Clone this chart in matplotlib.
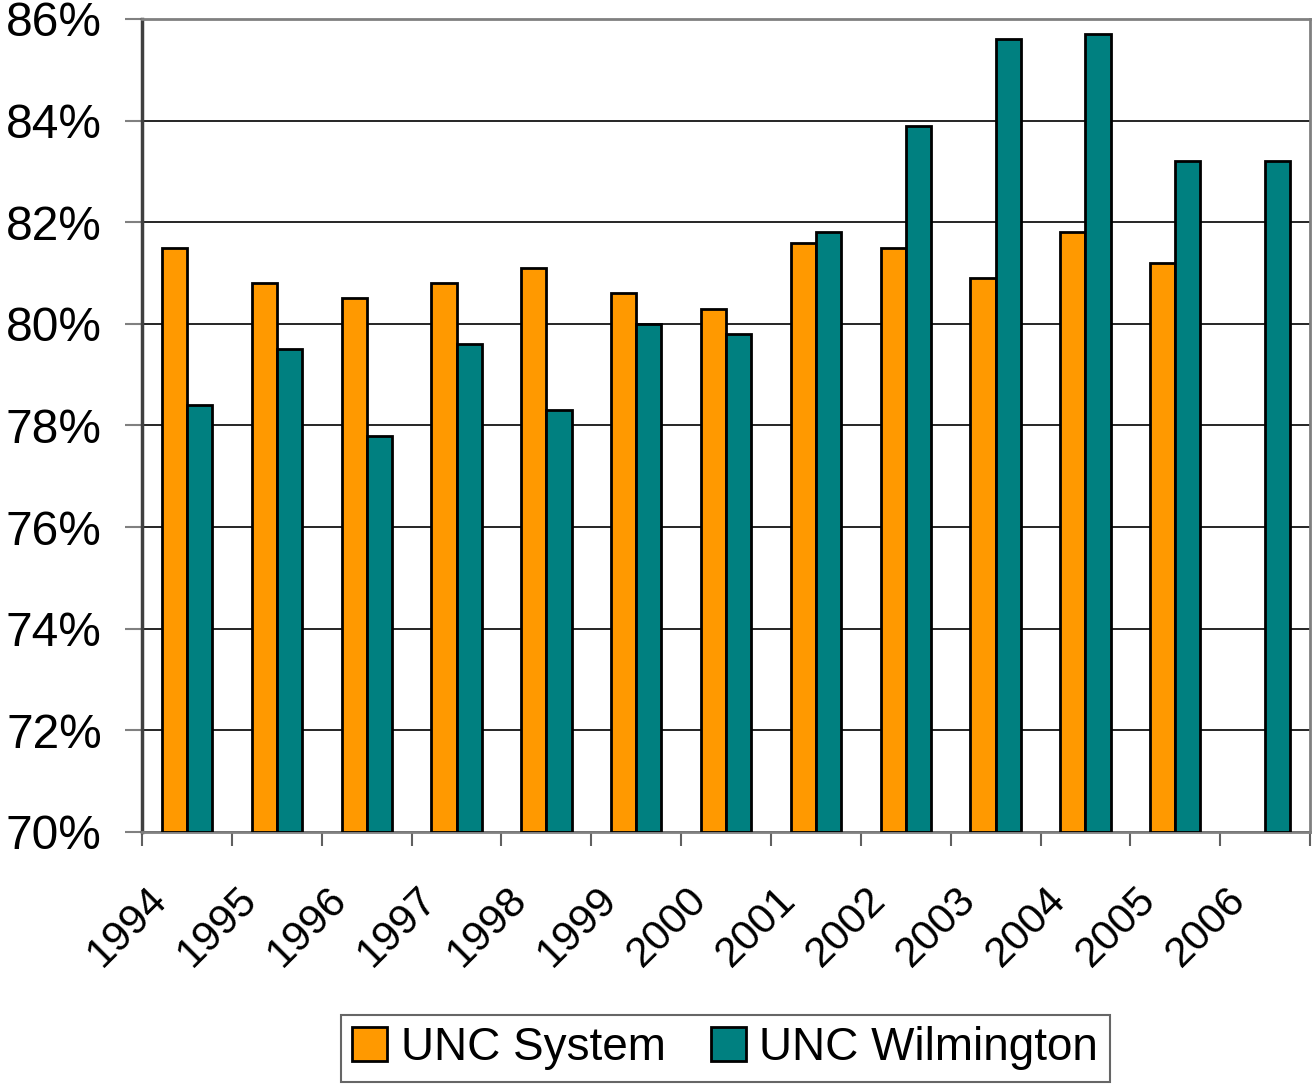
import matplotlib.pyplot as plt
import matplotlib.transforms as mtransforms
import numpy as np

# data
years = ['1994', '1995', '1996', '1997', '1998', '1999', '2000',
         '2001', '2002', '2003', '2004', '2005', '2006']
unc_system = [81.5, 80.8, 80.5, 80.8, 81.1, 80.6, 80.3, 81.6, 81.5, 80.9, 81.8, 81.2, np.nan]
unc_wilmington = [78.4, 79.5, 77.8, 79.6, 78.3, 80.0, 79.8, 81.8, 83.9, 85.6, 85.7, 83.2, 83.2]

plt.rcParams['font.family'] = ['Liberation Sans', 'DejaVu Sans']

fig = plt.figure(figsize=(13.14, 10.85), dpi=100)
ax = fig.add_axes([0.1081, 0.2332, 0.997 - 0.1081, 0.9825 - 0.2332])

x = np.arange(len(years))
w = 0.28
base = 70
ax.bar(x - w / 2, np.array(unc_system) - base, w, bottom=base, color='#FF9900',
       edgecolor='black', linewidth=2, label='UNC System', zorder=3)
ax.bar(x + w / 2, np.array(unc_wilmington) - base, w, bottom=base, color='#008080',
       edgecolor='black', linewidth=2, label='UNC Wilmington', zorder=3)

ax.set_xlim(-0.5, len(years) - 0.5)
ax.set_ylim(70, 86)
yt = np.arange(70, 87, 2)
ax.set_yticks(yt)
ax.set_yticklabels(['%d%%' % v for v in yt], fontsize=34.5)
ax.yaxis.grid(True, color='black', linewidth=1.2, zorder=0)
ax.tick_params(axis='y', length=12, width=1.5, color='#808080', pad=17)

# ticks on category boundaries, labels in the middle
ax.set_xticks(np.arange(len(years) + 1) - 0.5)
ax.set_xticklabels([])
ax.set_xticks(x, minor=True)
ax.set_xticklabels(years, minor=True, fontsize=30.5, rotation=45, ha='right',
                   rotation_mode='anchor')
ax.tick_params(axis='x', which='major', length=10, width=1.5, color='#606060')
ax.tick_params(axis='x', which='minor', length=0, pad=34)
offset = mtransforms.ScaledTranslation(-0.40, 0, fig.dpi_scale_trans)
for lab in ax.get_xticklabels(minor=True):
    lab.set_transform(lab.get_transform() + offset)

for s in ['top', 'right', 'bottom']:
    ax.spines[s].set_color('#808080')
    ax.spines[s].set_linewidth(2)
ax.spines['left'].set_color('#404040')
ax.spines['left'].set_linewidth(2.5)

leg = fig.legend(loc='center', bbox_to_anchor=(0.552, 0.034), ncol=2, fontsize=33,
                 frameon=True, fancybox=False, handlelength=0.75, handleheight=0.75,
                 handletextpad=0.3, columnspacing=1.0, borderpad=0.25)
leg.get_frame().set_edgecolor('#404040')
leg.get_frame().set_linewidth(1.5)

fig.savefig('out.png', dpi=100)
